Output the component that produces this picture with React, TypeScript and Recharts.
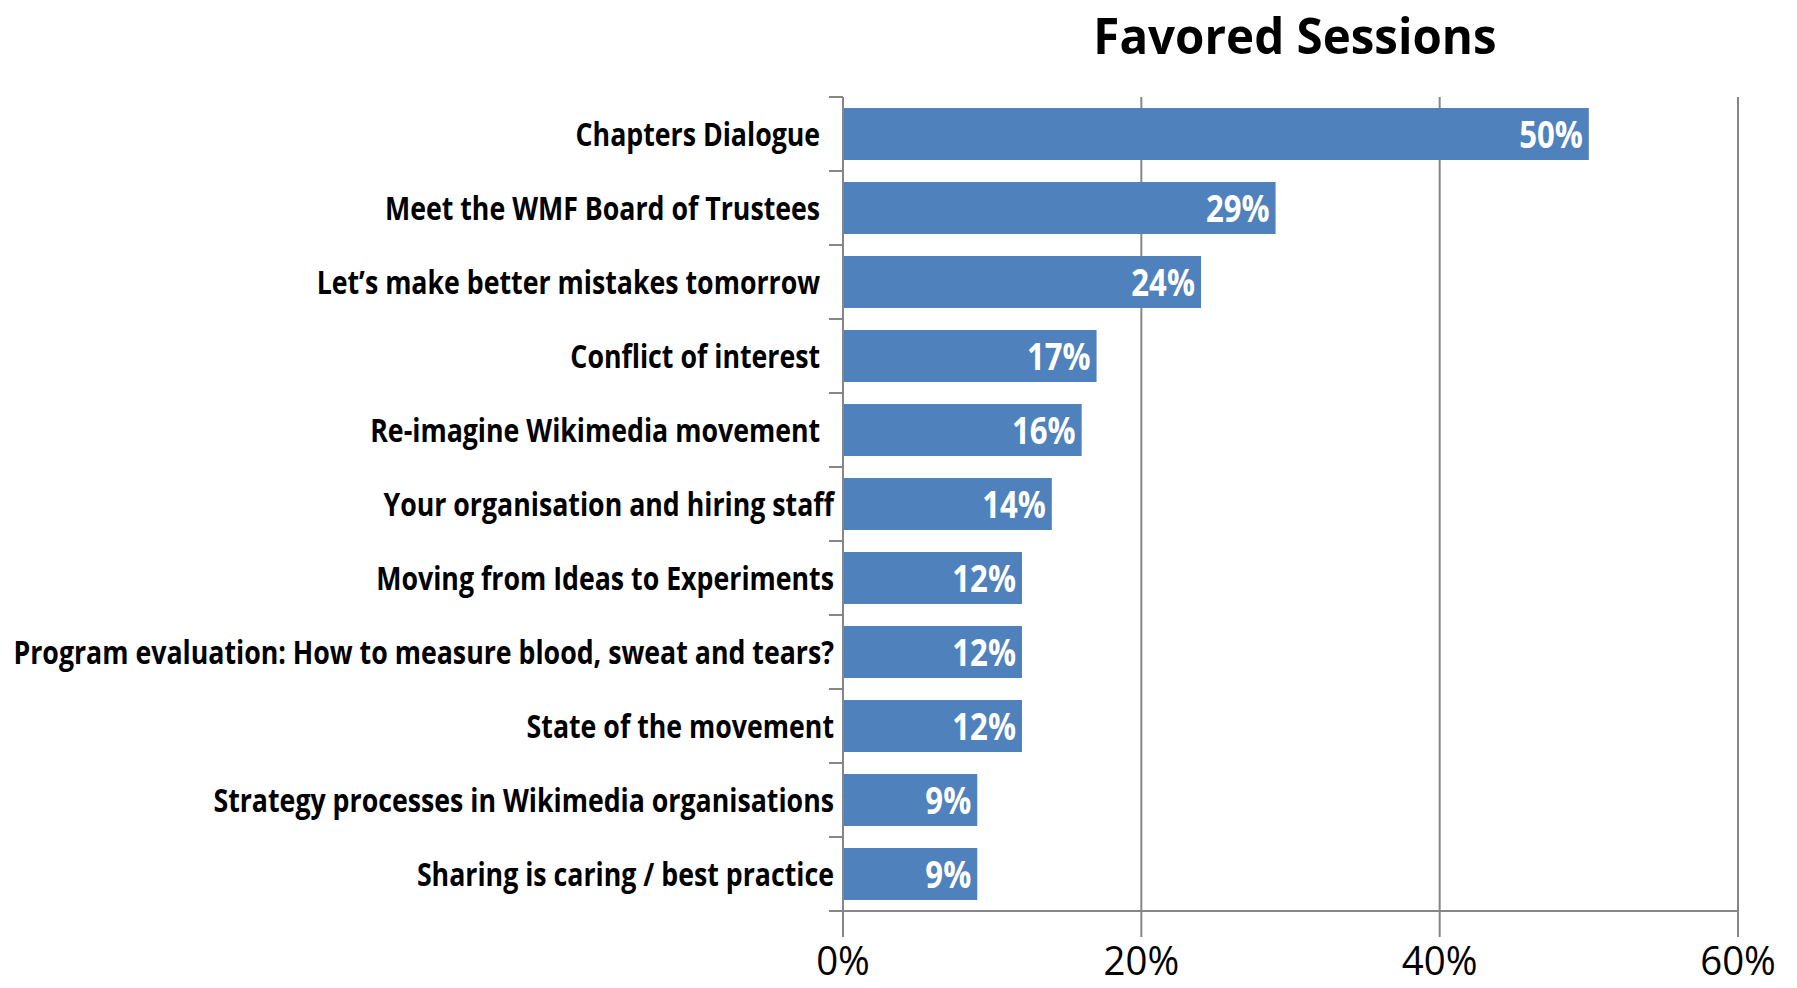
import { BarChart, Bar, XAxis, YAxis, CartesianGrid, LabelList } from 'recharts';

// session names (the first five carry trailing spaces in the source, so they sit a little further from the axis)
const sessions = [
  'Chapters Dialogue\u00a0\u00a0',
  'Meet the WMF Board of Trustees\u00a0\u00a0',
  'Let\u2019s make better mistakes tomorrow\u00a0\u00a0',
  'Conflict of interest\u00a0\u00a0',
  'Re-imagine Wikimedia movement\u00a0\u00a0',
  'Your organisation and hiring staff',
  'Moving from Ideas to Experiments',
  'Program evaluation: How to measure blood, sweat and tears?',
  'State of the movement',
  'Strategy processes in Wikimedia organisations',
  'Sharing is caring / best practice',
];
const shares = [50, 29, 24, 17, 16, 14, 12, 12, 12, 9, 9];
const xTicks = [0, 20, 40, 60];

const data = sessions.map((name, i) => ({ name, share: shares[i] }));

const W = 1797;
const H = 988;
const X_AXIS_H = 77;
const MARGIN = { top: 97, right: 59, bottom: 0, left: 0 };
const Y_AXIS_W = 843;
const BAND = (H - MARGIN.top - MARGIN.bottom - X_AXIS_H) / sessions.length;
const GRID = '#868686';
const BLUE = '#4f81bd';
const FONT = '"Open Sans", "Noto Sans", sans-serif';

function CategoryTick(props: any) {
  const { x, y, payload, index } = props;
  const last = index === sessions.length - 1;
  return (
    <g>
      <line x1={Y_AXIS_W - 14} x2={Y_AXIS_W} y1={y - BAND / 2} y2={y - BAND / 2} stroke={GRID} strokeWidth={2} />
      {last && (
        <line x1={Y_AXIS_W - 14} x2={Y_AXIS_W} y1={y + BAND / 2} y2={y + BAND / 2} stroke={GRID} strokeWidth={2} />
      )}
      <text
        transform={`translate(${x},${y}) scale(0.81,1)`}
        textAnchor="end"
        dy={12}
        fontFamily={FONT}
        fontWeight={700}
        fontSize={33}
        fill="#000"
      >
        {payload.value}
      </text>
    </g>
  );
}

function PercentTick(props: any) {
  const { x, y, payload } = props;
  return (
    <text
      transform={`translate(${x},${y}) scale(0.96,1)`}
      textAnchor="middle"
      dy={25}
      fontFamily={FONT}
      fontSize={40}
      fill="#000"
    >
      {payload.value}%
    </text>
  );
}

function ValueLabel(props: any) {
  const { x, y, width, height, value } = props;
  return (
    <text
      transform={`translate(${x + width - 6},${y + height / 2}) scale(0.82,1)`}
      textAnchor="end"
      dy={14}
      fontFamily={FONT}
      fontWeight={700}
      fontSize={38}
      fill="#fff"
    >
      {value}%
    </text>
  );
}

export default function App() {
  return (
    <div style={{ position: 'absolute', left: 0, top: 0, width: W, height: H, background: '#fff' }}>
      <BarChart width={W} height={H} data={data} layout="vertical" margin={MARGIN} barCategoryGap="15%">
        <CartesianGrid horizontal={false} stroke={GRID} strokeWidth={2} />
        <XAxis
          type="number"
          domain={[0, 60]}
          ticks={xTicks}
          interval={0}
          height={X_AXIS_H}
          tickSize={26}
          tickMargin={13}
          axisLine={{ stroke: GRID, strokeWidth: 2 }}
          tickLine={{ stroke: GRID, strokeWidth: 2 }}
          tick={<PercentTick />}
        />
        <YAxis
          type="category"
          dataKey="name"
          width={Y_AXIS_W}
          interval={0}
          tickSize={0}
          tickMargin={9}
          axisLine={{ stroke: GRID, strokeWidth: 2 }}
          tickLine={false}
          tick={<CategoryTick />}
        />
        <Bar dataKey="share" fill={BLUE} isAnimationActive={false}>
          <LabelList dataKey="share" content={<ValueLabel />} />
        </Bar>
      </BarChart>
      <svg width={W} height={90} style={{ position: 'absolute', left: 0, top: 0, pointerEvents: 'none' }}>
        <text
          transform="translate(1295,54) scale(0.95,1)"
          textAnchor="middle"
          fontFamily={FONT}
          fontWeight={700}
          fontSize={50}
          fill="#000"
        >
          Favored Sessions
        </text>
      </svg>
    </div>
  );
}
